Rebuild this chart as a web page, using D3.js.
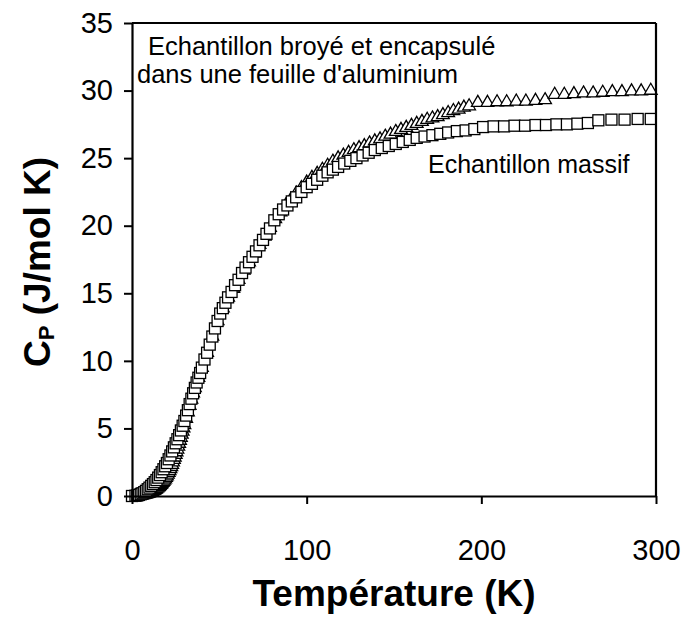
<!DOCTYPE html>
<html>
<head>
<meta charset="utf-8">
<script src="https://cdn.jsdelivr.net/npm/d3@7"></script>
<style>
  html, body { margin: 0; padding: 0; background: #fff; }
  svg { display: block; }
  text { font-family: "Liberation Sans", Arial, sans-serif; fill: #000; }
</style>
</head>
<body>
<svg id="chart" width="684" height="622"></svg>
<script>
// ---- Data ----
const massifT = [0, 2, 3, 4, 5, 6, 7, 8, 9, 10, 11, 12, 13, 14, 15, 16, 17, 18, 19, 20,
  21, 22, 23, 24, 25, 26, 27, 28, 29, 30, 31, 32, 33, 34, 35, 36, 37, 38, 39, 40,
  41.5, 43, 44.5, 46, 47.5, 49, 50.5, 52, 53.5, 55, 57, 59, 61, 63, 65, 67, 69, 71, 73, 75,
  77, 79, 81.5, 84, 86.5, 89, 91.5, 94, 97, 100, 103, 106, 109, 112, 115, 118, 121.5, 125,
  128.5, 132, 135.5, 139, 143, 147, 151, 155, 159, 163, 167.5, 172, 176.5, 181, 186, 191,
  196, 201, 207, 213, 219, 225, 231, 237, 243, 249, 255, 261, 267, 274.5, 282, 289.5, 297];
const massifCp = [0, 0.02, 0.04, 0.08, 0.13, 0.2, 0.28, 0.38, 0.5, 0.62, 0.75, 0.88, 1.02, 1.18, 1.36, 1.55, 1.76, 1.98, 2.2, 2.44,
  2.72, 3.0, 3.3, 3.6, 3.9, 4.2, 4.5, 4.85, 5.2, 5.55, 5.95, 6.35, 6.8, 7.2, 7.6, 8.0, 8.4, 8.75, 9.1, 9.5,
  10.1, 10.6, 11.2, 11.8, 12.4, 12.95, 13.5, 13.9, 14.3, 14.7, 15.1, 15.6, 16.0, 16.5, 16.9, 17.3, 17.7, 18.1, 18.55, 18.95,
  19.4, 19.8, 20.4, 20.85, 21.2, 21.5, 21.8, 22.1, 22.5, 22.85, 23.1, 23.4, 23.7, 23.95, 24.15, 24.35, 24.6, 24.8,
  25.0, 25.2, 25.4, 25.6, 25.75, 25.9, 26.05, 26.2, 26.35, 26.5, 26.6, 26.7, 26.8, 26.9, 27.0, 27.05,
  27.15, 27.3, 27.35, 27.35, 27.4, 27.4, 27.45, 27.45, 27.5, 27.5, 27.55, 27.6, 27.8, 27.85, 27.85, 27.9, 27.9];

const broyeT = [2, 2.5, 3, 3.5, 4, 4.5, 5, 5.5, 6, 6.5, 7, 7.5, 8, 8.5, 9, 9.5, 10, 10.5, 11, 11.5, 12, 12.5, 13, 13.5, 14, 14.5, 15, 15.5, 16, 16.5,
  17, 17.5, 18, 18.5, 19, 19.5, 20, 20.5, 21, 21.5, 22, 22.5, 23, 23.5, 24, 24.5, 25, 25.5, 26, 26.5,
  27, 27.5, 28, 28.5, 29, 29.5, 30, 31, 32, 33, 34, 35, 36, 38, 40,
  43, 46, 49, 52, 55, 58, 61, 64, 67, 70, 73, 76, 79, 82, 85, 88, 91, 94, 97, 100,
  103, 106, 109, 112, 115, 118, 121, 124, 127, 130, 133, 136, 139, 142, 145, 148, 151, 154, 157, 160,
  163, 166, 169, 172, 175, 178, 181, 184, 187, 190, 193, 198, 203.5, 209, 214.5, 220, 225.5, 231, 236.5,
  242, 247.5, 253, 258.5, 264, 269.5, 275, 280.5, 286, 291.5, 297];
const broyeCp = [0.01, 0.01, 0.02, 0.02, 0.03, 0.04, 0.05, 0.06, 0.07, 0.08, 0.1, 0.11, 0.13, 0.15, 0.17, 0.19, 0.22, 0.25, 0.28, 0.31, 0.35, 0.39, 0.43, 0.47, 0.52, 0.57, 0.63, 0.69, 0.76, 0.83,
  0.9, 0.98, 1.06, 1.15, 1.25, 1.36, 1.47, 1.59, 1.72, 1.86, 2.0, 2.16, 2.32, 2.5, 2.68, 2.86, 3.05, 3.25, 3.45, 3.66,
  3.88, 4.1, 4.32, 4.55, 4.78, 5.01, 5.25, 5.72, 6.2, 6.68, 7.15, 7.6, 8.0, 8.75, 9.5,
  10.6, 11.8, 12.95, 13.9, 14.7, 15.35, 16.0, 16.7, 17.3, 17.95, 18.6, 19.2, 19.85, 20.5, 21.0, 21.5, 21.95, 22.4, 22.8, 23.2,
  23.55, 23.85, 24.15, 24.45, 24.75, 25.0, 25.2, 25.4, 25.6, 25.75, 25.9, 26.1, 26.25, 26.4, 26.6, 26.75, 26.95, 27.1, 27.25, 27.4,
  27.55, 27.7, 27.85, 27.95, 28.05, 28.2, 28.35, 28.5, 28.6, 28.75, 28.85, 29.1, 29.1, 29.15, 29.15, 29.2, 29.2, 29.25, 29.3,
  29.7, 29.7, 29.75, 29.8, 29.8, 29.85, 29.9, 29.9, 29.95, 29.95, 30.0];

const xTicks = [0, 100, 200, 300];
const yTicks = [0, 5, 10, 15, 20, 25, 30, 35];
const annotBroye = ["Echantillon broyé et encapsulé", "dans une feuille d'aluminium"];
const annotMassif = "Echantillon massif";
const xTitle = "Température (K)";

// ---- Chart ----
const svg = d3.select("#chart");
const x = d3.scaleLinear().domain([0, 300]).range([132, 656]);
const y = d3.scaleLinear().domain([0, 35]).range([496, 23]);

const massif = massifT.map((t, i) => ({ t, cp: massifCp[i] }));
const broye = broyeT.map((t, i) => ({ t, cp: broyeCp[i] }));

// triangles (drawn first, squares on top)
const triSym = d3.symbol().type(d3.symbolTriangle).size(70);
svg.append("g").selectAll("path").data(broye).join("path")
  .attr("d", triSym)
  .attr("transform", d => `translate(${x(d.t)},${y(d.cp)})`)
  .attr("fill", "#fff").attr("stroke", "#000").attr("stroke-width", 1.3);

const sq = 11;
svg.append("g").selectAll("rect").data(massif).join("rect")
  .attr("x", d => x(d.t) - sq / 2).attr("y", d => y(d.cp) - sq / 2)
  .attr("width", sq).attr("height", sq)
  .attr("fill", "#fff").attr("stroke", "#000").attr("stroke-width", 1.3);

// frame (top and right)
svg.append("line").attr("x1", x(0)).attr("x2", x(300)).attr("y1", y(35)).attr("y2", y(35))
  .attr("stroke", "#000").attr("stroke-width", 2.2);
svg.append("line").attr("x1", x(300)).attr("x2", x(300)).attr("y1", y(35)).attr("y2", y(0))
  .attr("stroke", "#000").attr("stroke-width", 2.2);

// axes
const yAxis = svg.append("g").attr("transform", `translate(${x(0)},0)`)
  .call(d3.axisLeft(y).tickValues(yTicks).tickSize(8).tickPadding(11).tickSizeOuter(0));
const xAxis = svg.append("g").attr("transform", `translate(0,${y(0)})`)
  .call(d3.axisBottom(x).tickValues(xTicks).tickSize(8).tickPadding(35).tickSizeOuter(0));
[yAxis, xAxis].forEach(a => {
  a.select(".domain").attr("stroke", "#000").attr("stroke-width", 2.2);
  a.selectAll(".tick line").attr("stroke", "#000").attr("stroke-width", 2);
  a.selectAll(".tick text").attr("font-size", 29).attr("font-family", "Liberation Sans, Arial, sans-serif").attr("fill", "#000");
});

// annotations
svg.append("text").attr("x", 148).attr("y", 55).attr("font-size", 25.5).text(annotBroye[0]);
svg.append("text").attr("x", 137).attr("y", 83).attr("font-size", 25.5).text(annotBroye[1]);
svg.append("text").attr("x", 428).attr("y", 173).attr("font-size", 25).text(annotMassif);

// axis titles
svg.append("text").attr("x", 394).attr("y", 606).attr("text-anchor", "middle")
  .attr("font-size", 37).attr("font-weight", "bold").text(xTitle);

const yt = svg.append("text").attr("transform", "translate(50,262) rotate(-90)")
  .attr("text-anchor", "middle").attr("font-size", 37).attr("font-weight", "bold");
yt.append("tspan").text("C");
yt.append("tspan").attr("font-size", 22).attr("dy", 4).text("P");
yt.append("tspan").attr("dy", -4).text(" (J/mol K)");
</script>
</body>
</html>
